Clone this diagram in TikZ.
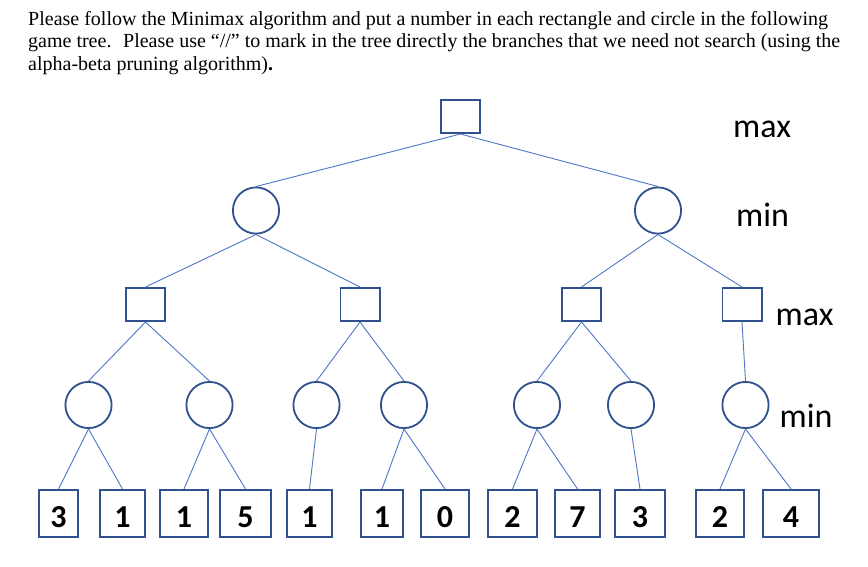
\documentclass[tikz,border=0pt]{standalone}
\usepackage{fontspec}
\setmainfont{Liberation Serif}
\newfontfamily\calib{Carlito}
\definecolor{edgeblue}{RGB}{78,118,198}
\definecolor{nodeblue}{RGB}{47,82,143}
\begin{document}
\begin{tikzpicture}[x=1pt,y=-1pt,
  conn/.style={draw=edgeblue,line width=0.9pt},
  maxnode/.style={draw=nodeblue,line width=1.8pt,rectangle,minimum width=39.2pt,minimum height=33.2pt,inner sep=0pt},
  minnode/.style={draw=nodeblue,line width=1.8pt,circle,minimum size=46.2pt,inner sep=0pt},
  leaf/.style={draw=nodeblue,line width=1.6pt,rectangle,minimum width=#1,minimum height=47.4pt,inner sep=0pt,
    font=\calib\bfseries\fontsize{32}{32}\selectfont,text height=28.6pt,text depth=0pt},
  qline/.style={anchor=base west,inner sep=0pt,font=\fontsize{20}{22}\selectfont},
  lvl/.style={anchor=base west,inner sep=0pt,font=\calib\fontsize{34}{34}\selectfont}]
\useasboundingbox (0,0) rectangle (868,566);
\fill[white] (0,0) rectangle (868,566);

% question text
\node[qline] (q1) at (28,25) {Please follow the Minimax algorithm and put a number in each rectangle and circle in the following};
\node[qline] (q2) at (28,47.5) {game tree.~ Please use “//” to mark in the tree directly the branches that we need not search (using the};
\node[qline] (q3) at (28,70) {alpha-beta pruning algorithm)\textbf{.}};

% level labels
\node[lvl] (lmax1) at (733,137) {max};
\node[lvl] (lmin1) at (736,226) {min};
\node[lvl] (lmax2) at (775.5,325) {max};
\node[lvl] (lmin2) at (779.5,427) {min};

% tree nodes
\node[maxnode] (r) at (460.5,116.5) {};
\node[minnode] (m1) at (256,210.5) {};
\node[minnode] (m2) at (658,210.5) {};
\node[maxnode] (s1) at (145.5,304.5) {};
\node[maxnode] (s2) at (360,304.5) {};
\node[maxnode] (s3) at (581.5,304.5) {};
\node[maxnode] (s4) at (742,304.5) {};
\node[minnode] (c1) at (88.5,405) {};
\node[minnode] (c2) at (209.5,405) {};
\node[minnode] (c3) at (316.5,405) {};
\node[minnode] (c4) at (404,405) {};
\node[minnode] (c5) at (537,405) {};
\node[minnode] (c6) at (631,405) {};
\node[minnode] (c7) at (745.5,405) {};

\node[leaf=39.4pt] (l1) at (58.5,513.5) {3};
\node[leaf=45.4pt] (l2) at (122.5,513.5) {1};
\node[leaf=48.4pt] (l3) at (184,513.5) {1};
\node[leaf=51.4pt] (l4) at (245.5,513.5) {5};
\node[leaf=45.4pt] (l5) at (309.5,513.5) {1};
\node[leaf=42.4pt] (l6) at (382,513.5) {1};
\node[leaf=48.4pt] (l7) at (445,513.5) {0};
\node[leaf=49.4pt] (l8) at (512.5,513.5) {2};
\node[leaf=45.4pt] (l9) at (577.5,513.5) {7};
\node[leaf=50.4pt] (l10) at (640,513.5) {3};
\node[leaf=48.4pt] (l11) at (720,513.5) {2};
\node[leaf=56.4pt] (l12) at (791,513.5) {4};

% connectors
\draw[conn] (r.south) -- (m1.north);
\draw[conn] (r.south) -- (m2.north);
\draw[conn] (m1.south) -- (s1.north);
\draw[conn] (m1.south) -- (s2.north);
\draw[conn] (m2.south) -- (s3.north);
\draw[conn] (m2.south) -- (s4.north);
\draw[conn] (s1.south) -- (c1.north);
\draw[conn] (s1.south) -- (c2.north);
\draw[conn] (s2.south) -- (c3.north);
\draw[conn] (s2.south) -- (c4.north);
\draw[conn] (s3.south) -- (c5.north);
\draw[conn] (s3.south) -- (c6.north);
\draw[conn] (s4.south) -- (c7.north);
\draw[conn] (c1.south) -- (l1.north);
\draw[conn] (c1.south) -- (l2.north);
\draw[conn] (c2.south) -- (l3.north);
\draw[conn] (c2.south) -- (l4.north);
\draw[conn] (c3.south) -- (l5.north);
\draw[conn] (c4.south) -- (l6.north);
\draw[conn] (c4.south) -- (l7.north);
\draw[conn] (c5.south) -- (l8.north);
\draw[conn] (c5.south) -- (l9.north);
\draw[conn] (c6.south) -- (l10.north);
\draw[conn] (c7.south) -- (l11.north);
\draw[conn] (c7.south) -- (l12.north);
\end{tikzpicture}
\end{document}
